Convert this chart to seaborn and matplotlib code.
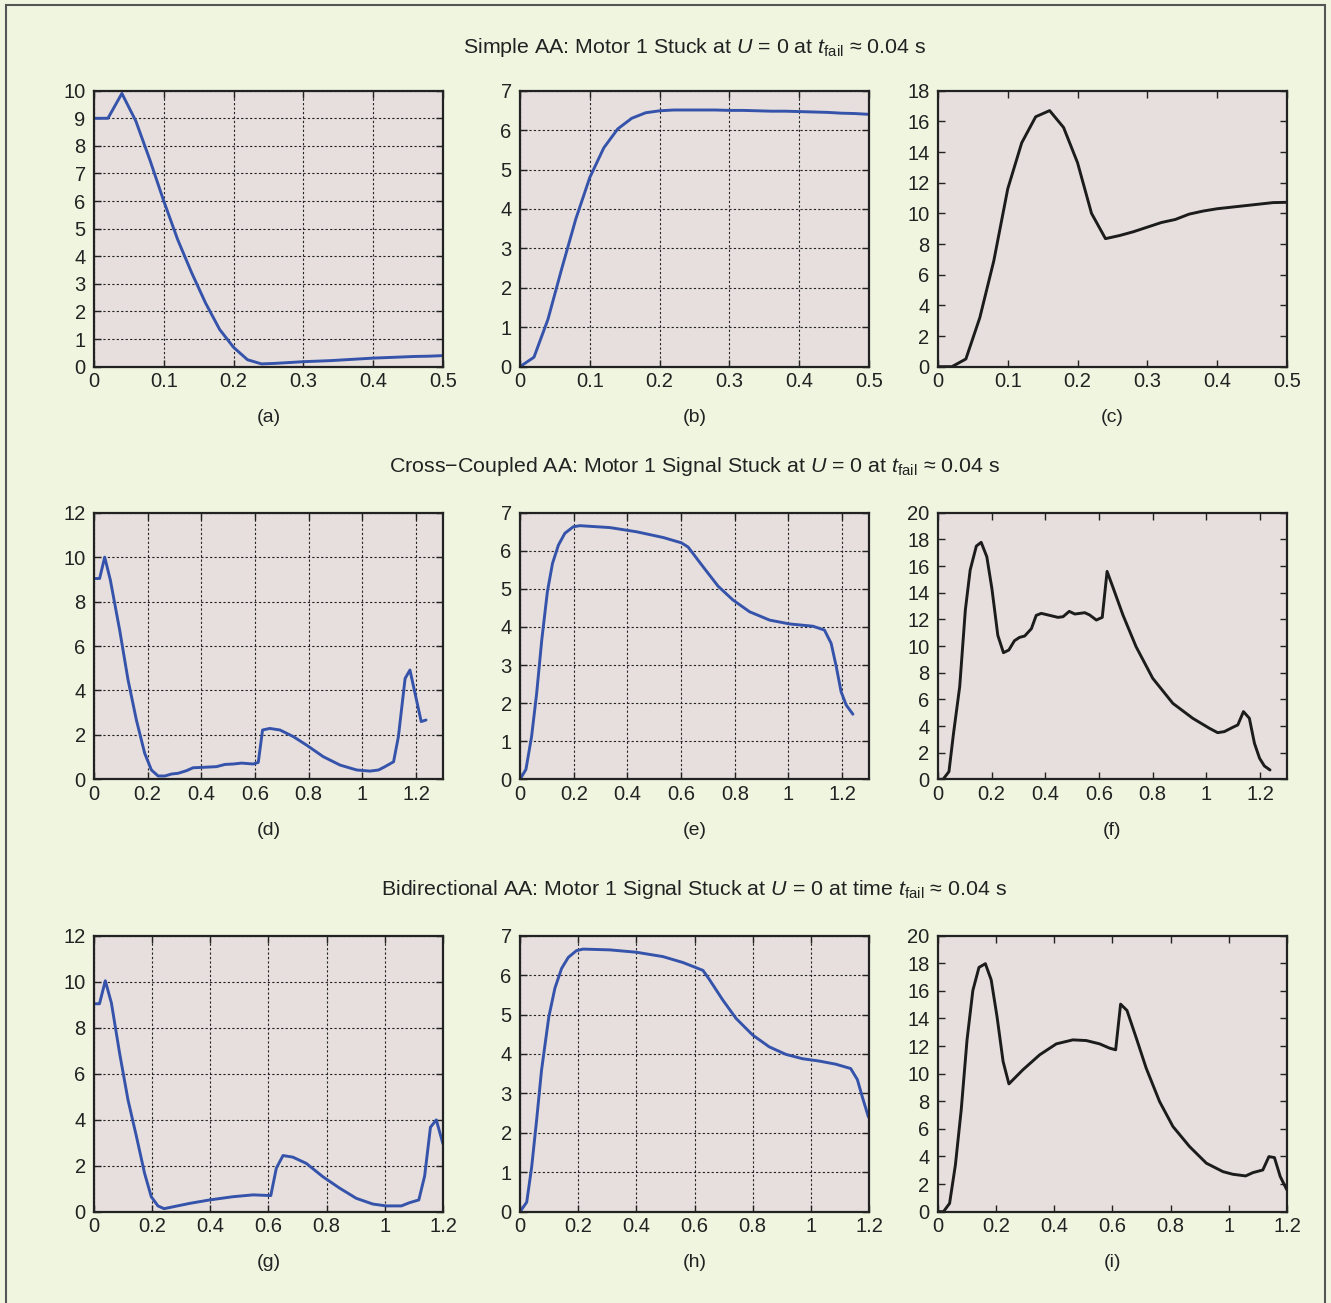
import numpy as np
import pandas as pd
import matplotlib
matplotlib.use("Agg")
import matplotlib.pyplot as plt
import seaborn as sns
from matplotlib.patches import Rectangle

# ---- data ----
# row 1: Simple AA
t_a = [0, 0.02, 0.04, 0.06, 0.08, 0.10, 0.12, 0.14, 0.16, 0.18, 0.20, 0.22, 0.24, 0.26,
       0.28, 0.30, 0.32, 0.34, 0.36, 0.38, 0.40, 0.42, 0.44, 0.46, 0.48, 0.50]
y_a = [9.0, 9.0, 9.9, 8.9, 7.5, 6.0, 4.6, 3.4, 2.3, 1.35, 0.7, 0.25, 0.1, 0.12,
       0.15, 0.18, 0.2, 0.22, 0.25, 0.28, 0.31, 0.33, 0.35, 0.37, 0.38, 0.4]
y_b = [0, 0.24, 1.2, 2.5, 3.75, 4.8, 5.55, 6.03, 6.3, 6.44, 6.49, 6.51, 6.51, 6.51,
       6.51, 6.5, 6.5, 6.49, 6.48, 6.48, 6.47, 6.46, 6.45, 6.43, 6.42, 6.4]
y_c = [0, 0, 0.5, 3.2, 6.9, 11.6, 14.6, 16.3, 16.7, 15.6, 13.3, 10.0, 8.35, 8.55,
       8.8, 9.1, 9.4, 9.6, 9.95, 10.15, 10.3, 10.4, 10.5, 10.6, 10.7, 10.72]

# row 2: Cross-Coupled AA
t_d = [0, 0.021, 0.04, 0.061, 0.096, 0.127, 0.158, 0.189, 0.214, 0.239, 0.264, 0.289,
       0.313, 0.345, 0.369, 0.407, 0.456, 0.488, 0.519, 0.55, 0.593, 0.612, 0.628, 0.655,
       0.693, 0.743, 0.792, 0.854, 0.917, 0.979, 1.028, 1.06, 1.084, 1.116, 1.134, 1.159,
       1.177, 1.219, 1.237]
y_d = [9.04, 9.04, 10.0, 8.97, 6.7, 4.47, 2.67, 1.17, 0.42, 0.15, 0.15, 0.24,
       0.27, 0.39, 0.52, 0.54, 0.57, 0.67, 0.69, 0.73, 0.69, 0.76, 2.22, 2.29,
       2.22, 1.92, 1.54, 1.02, 0.64, 0.42, 0.37, 0.42, 0.57, 0.79, 1.92, 4.54,
       4.92, 2.6, 2.67]
t_e = [0, 0.022, 0.043, 0.062, 0.081, 0.102, 0.121, 0.143, 0.167, 0.198, 0.223, 0.335,
       0.434, 0.533, 0.601, 0.626, 0.682, 0.738, 0.793, 0.855, 0.93, 1.004, 1.091, 1.134,
       1.159, 1.178, 1.196, 1.215, 1.24]
y_e = [0, 0.26, 1.12, 2.26, 3.66, 4.93, 5.67, 6.15, 6.46, 6.63, 6.66, 6.61,
       6.5, 6.35, 6.21, 6.1, 5.58, 5.07, 4.71, 4.4, 4.18, 4.08, 4.02, 3.92,
       3.57, 2.96, 2.3, 1.95, 1.71]
t_f = [0, 0.019, 0.041, 0.058, 0.081, 0.102, 0.12, 0.143, 0.161, 0.182, 0.201, 0.223,
       0.244, 0.264, 0.285, 0.304, 0.323, 0.348, 0.366, 0.385, 0.41, 0.447, 0.466, 0.489,
       0.51, 0.547, 0.565, 0.59, 0.612, 0.63, 0.651, 0.689, 0.738, 0.8, 0.875, 0.949,
       1.011, 1.042, 1.067, 1.098, 1.117, 1.138, 1.16, 1.179, 1.198, 1.216, 1.237]
y_f = [0, 0, 0.58, 3.45, 6.95, 12.7, 15.7, 17.5, 17.78, 16.7, 14.3, 10.8,
       9.5, 9.7, 10.4, 10.65, 10.75, 11.3, 12.3, 12.45, 12.33, 12.15, 12.2, 12.6,
       12.4, 12.5, 12.33, 11.95, 12.15, 15.6, 14.45, 12.33, 9.95, 7.58, 5.7, 4.58,
       3.83, 3.5, 3.58, 3.9, 4.08, 5.08, 4.58, 2.7, 1.58, 1.0, 0.7]

# row 3: Bidirectional AA
t_g = [0, 0.019, 0.039, 0.06, 0.088, 0.117, 0.146, 0.174, 0.197, 0.22, 0.241, 0.329,
       0.398, 0.478, 0.547, 0.608, 0.627, 0.65, 0.684, 0.73, 0.787, 0.845, 0.902, 0.959,
       1.005, 1.057, 1.085, 1.117, 1.137, 1.157, 1.177, 1.2]
y_g = [9.04, 9.04, 10.04, 9.07, 6.9, 4.86, 3.27, 1.67, 0.65, 0.25, 0.13, 0.36,
       0.51, 0.65, 0.73, 0.7, 1.89, 2.44, 2.37, 2.1, 1.52, 1.02, 0.58, 0.33,
       0.25, 0.25, 0.39, 0.51, 1.55, 3.67, 3.99, 2.95]
t_h = [0, 0.023, 0.04, 0.057, 0.074, 0.099, 0.12, 0.143, 0.166, 0.194, 0.217, 0.309,
       0.4, 0.491, 0.56, 0.629, 0.651, 0.697, 0.743, 0.8, 0.857, 0.914, 0.971, 1.029,
       1.086, 1.137, 1.16, 1.177, 1.198]
y_h = [0, 0.24, 1.13, 2.32, 3.59, 4.94, 5.67, 6.17, 6.45, 6.62, 6.66, 6.64,
       6.58, 6.47, 6.32, 6.12, 5.89, 5.37, 4.9, 4.48, 4.18, 3.99, 3.88, 3.82,
       3.74, 3.63, 3.35, 2.91, 2.4]
t_i = [0, 0.019, 0.04, 0.06, 0.08, 0.1, 0.12, 0.141, 0.163, 0.183, 0.203, 0.224,
       0.244, 0.292, 0.35, 0.407, 0.464, 0.51, 0.556, 0.59, 0.611, 0.628, 0.65, 0.682,
       0.716, 0.762, 0.808, 0.865, 0.923, 0.98, 1.014, 1.058, 1.083, 1.117, 1.138, 1.157,
       1.177, 1.2]
y_i = [0, 0, 0.6, 3.39, 7.38, 12.45, 16.03, 17.7, 17.97, 16.8, 14.15, 10.88,
       9.26, 10.28, 11.37, 12.16, 12.45, 12.4, 12.16, 11.85, 11.73, 15.04, 14.58, 12.58,
       10.4, 7.98, 6.17, 4.72, 3.51, 2.9, 2.71, 2.59, 2.83, 3.02, 3.99, 3.92,
       2.54, 1.57]

row_titles = [
    r"Simple AA: Motor 1 Stuck at $U$ = 0 at $t_{\mathrm{fail}}$ ≈ 0.04 s",
    r"Cross−Coupled AA: Motor 1 Signal Stuck at $U$ = 0 at $t_{\mathrm{fail}}$ ≈ 0.04 s",
    r"Bidirectional AA: Motor 1 Signal Stuck at $U$ = 0 at time $t_{\mathrm{fail}}$ ≈ 0.04 s",
]
panel_labels = ["(a)", "(b)", "(c)", "(d)", "(e)", "(f)", "(g)", "(h)", "(i)"]

# ---- style ----
sns.set_style("ticks")
plt.rcParams["font.family"] = ["Liberation Sans", "DejaVu Sans"]
plt.rcParams["mathtext.fontset"] = "custom"
plt.rcParams["mathtext.rm"] = "Liberation Sans"
plt.rcParams["mathtext.it"] = "Liberation Sans:italic"

bg = "#f0f5e0"
face = "#e6dfdd"
blue = "#3553aa"
black = "#1c1c1c"

fig = plt.figure(figsize=(13.31, 13.03), dpi=100, facecolor=bg)

col_left = [0.0706, 0.3907, 0.7047]
col_w = 0.2622
row_bottom = [0.7186, 0.4019, 0.0701]
row_h = [0.2118, 0.2046, 0.2118]

panels = [
    (t_a, y_a, blue, True, (0, 0.5), np.arange(0, 0.51, 0.1), (0, 10), np.arange(0, 11, 1)),
    (t_a, y_b, blue, True, (0, 0.5), np.arange(0, 0.51, 0.1), (0, 7), np.arange(0, 8, 1)),
    (t_a, y_c, black, False, (0, 0.5), np.arange(0, 0.51, 0.1), (0, 18), np.arange(0, 19, 2)),
    (t_d, y_d, blue, True, (0, 1.3), np.arange(0, 1.21, 0.2), (0, 12), np.arange(0, 13, 2)),
    (t_e, y_e, blue, True, (0, 1.3), np.arange(0, 1.21, 0.2), (0, 7), np.arange(0, 8, 1)),
    (t_f, y_f, black, False, (0, 1.3), np.arange(0, 1.21, 0.2), (0, 20), np.arange(0, 21, 2)),
    (t_g, y_g, blue, True, (0, 1.2), np.arange(0, 1.21, 0.2), (0, 12), np.arange(0, 13, 2)),
    (t_h, y_h, blue, True, (0, 1.2), np.arange(0, 1.21, 0.2), (0, 7), np.arange(0, 8, 1)),
    (t_i, y_i, black, False, (0, 1.2), np.arange(0, 1.21, 0.2), (0, 20), np.arange(0, 21, 2)),
]


def fmt(v):
    return f"{v:g}"


for k, (tx, yv, col, grid, xl, xt, yl, yt) in enumerate(panels):
    r, c = divmod(k, 3)
    ax = fig.add_axes([col_left[c], row_bottom[r], col_w, row_h[r]])
    ax.set_facecolor(face)
    df = pd.DataFrame({"t": tx, "v": yv})
    sns.lineplot(data=df, x="t", y="v", ax=ax, color=col, linewidth=2.1,
                 estimator=None, sort=False)
    ax.set_xlim(*xl)
    ax.set_ylim(*yl)
    ax.set_xticks(xt)
    ax.set_xticklabels([fmt(round(v, 1)) for v in xt])
    ax.set_yticks(yt)
    ax.set_yticklabels([fmt(v) for v in yt])
    ax.set_xlabel("")
    ax.set_ylabel("")
    ax.tick_params(direction="in", top=True, right=True, length=5, width=1.0,
                   labelsize=14.5, colors="#222222")
    ax.tick_params(axis="x", pad=4)
    ax.tick_params(axis="y", pad=6)
    if grid:
        ax.grid(True, color="#222222", linestyle=(0, (2, 2)), linewidth=0.8)
    for sp in ax.spines.values():
        sp.set_visible(True)
        sp.set_linewidth(1.6)
        sp.set_color("#222222")
    # panel label under the axes
    fig.text(col_left[c] + col_w / 2, row_bottom[r] - 0.039, panel_labels[k],
             ha="center", va="center", fontsize=14, color="#222222")

title_y = [0.9639, 0.6416, 0.3177]
for r in range(3):
    fig.text(0.5218, title_y[r], row_titles[r], ha="center", va="center",
             fontsize=15.4, color="#222222")

# frame around the figure
fig.patches.append(Rectangle((6 / 1331, -0.02), 1319 / 1331, 1.02 - 5 / 1303,
                             transform=fig.transFigure, fill=False,
                             edgecolor="#555555", linewidth=1.5))

fig.savefig("out.png", dpi=100, facecolor=bg)
